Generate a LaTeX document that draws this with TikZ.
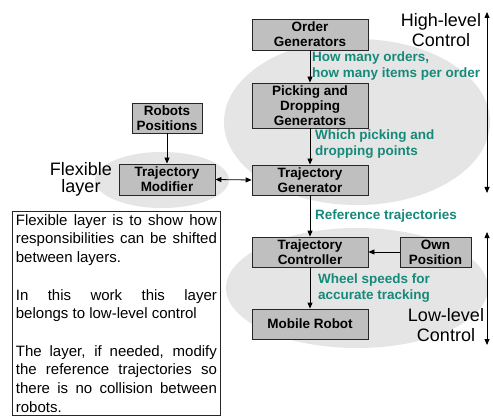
\documentclass[tikz,border=0pt]{standalone}
\usepackage{fontspec}
\setmainfont{Liberation Sans}
\usetikzlibrary{arrows.meta}
\definecolor{boxgray}{RGB}{191,191,191}
\definecolor{ellgray}{RGB}{229,229,229}
\definecolor{tealtxt}{RGB}{22,138,122}
\begin{document}
\begin{tikzpicture}[x=1pt,y=-1pt,
  blk/.style={draw=black!85, line width=0.8pt, fill=boxgray, align=center,
    inner sep=0pt, font=\fontsize{13.5}{15}\selectfont\bfseries},
  lbl/.style={text=tealtxt, anchor=west, align=left, inner sep=0pt,
    font=\fontsize{13.5}{16}\selectfont\bfseries},
  big/.style={align=center, inner sep=0pt, font=\fontsize{18}{20}\selectfont},
  ell/.style={fill=ellgray, draw=none},
  arr/.style={-{Triangle[length=6pt,width=5pt]}, line width=0.8pt},
  darr/.style={{Triangle[length=6pt,width=5pt]}-{Triangle[length=6pt,width=5pt]}, line width=0.8pt}
]
\useasboundingbox (0,0) rectangle (493,417);
\fill[white] (0,0) rectangle (493,417);

% background ellipses
\fill[ell] (357,122) ellipse [x radius=133, y radius=83];
\fill[ell] (162,180) ellipse [x radius=67, y radius=28];
\fill[ell] (357,288) ellipse [x radius=131, y radius=60];

% blocks
\node[blk, minimum width=116, minimum height=31] (og) at (310,34.5) {Order\\Generators};
\node[blk, minimum width=116, minimum height=45] (pd) at (310,105.5) {Picking and\\Dropping\\Generators};
\node[blk, minimum width=116, minimum height=30] (tg) at (310,180) {Trajectory\\Generator};
\node[blk, minimum width=116, minimum height=30] (tc) at (310,252) {Trajectory\\Controller};
\node[blk, minimum width=116, minimum height=30] (mr) at (310,324) {Mobile Robot};
\node[blk, minimum width=71, minimum height=30] (op) at (435.5,252) {Own\\Position};
\node[blk, minimum width=70, minimum height=30] (rp) at (167,118) {Robots\\Positions};
\node[blk, minimum width=96, minimum height=31] (tm) at (167,179.5) {Trajectory\\Modifier};

% connectors
\draw[arr] (og.south) -- (pd.north);
\draw[arr] (pd.south) -- (tg.north);
\draw[arr] (tg.south) -- (tc.north);
\draw[arr] (tc.south) -- (mr.north);
\draw[arr] (rp.south) -- (tm.north);
\draw[arr] (op.west) -- (tc.east);
\draw[darr] (tm.east) -- (tg.west);

% teal labels
\node[lbl] (l1) at (312,66.5) {How many orders,\\how many items per order};
\node[lbl] (l2) at (315,144) {Which picking and\\dropping points};
\node[lbl] (l3) at (315,216) {Reference trajectories};
\node[lbl] (l4) at (318,288) {Wheel speeds for\\accurate tracking};

% level labels
\node[big] (hl) at (441,30) {High-level\\Control};
\node[big] (ll) at (446,325) {Low-level\\Control};
\node[big, font=\fontsize{18}{17}\selectfont] (fl) at (81,179) {Flexible\\layer};

% level arrows
\coordinate (hu) at (487,12);
\coordinate (hd) at (487,193);
\coordinate (lu) at (487,232);
\coordinate (ld) at (487,345);
\draw[darr] (hu) -- (hd);
\draw[darr] (lu) -- (ld);

% note box
\node[draw=black!85, line width=0.8pt, anchor=north west, inner xsep=3.5pt, inner ysep=3pt,
  text width=201pt, align=justify, font=\fontsize{15}{18.7}\selectfont] (note) at (12,211)
  {Flexible layer is to show how\linebreak responsibilities can be shifted\linebreak between layers.\par\vskip18.7pt
   In this work this layer\linebreak belongs to low-level control\par\vskip18.7pt
   The layer, if needed, modify\linebreak the reference trajectories so\linebreak there is no collision between\linebreak robots.\par\vskip20pt};
\end{tikzpicture}
\end{document}
